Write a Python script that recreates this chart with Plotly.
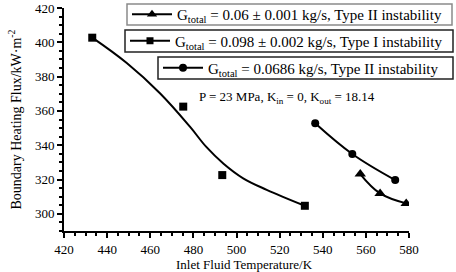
import plotly.graph_objects as go

# Measured points
sq_x = [433.1, 475.3, 493.4, 531.7]
sq_y = [402.7, 362.5, 322.6, 304.7]
ci_x = [536.5, 553.7, 573.6]
ci_y = [352.8, 334.9, 319.7]
tr_x = [557.4, 566.6, 578.7]
tr_y = [323.2, 311.9, 306.1]

# Fitted curves
sq_fit_x = [433.1, 449.1, 464.5, 478.4, 486.0, 494.0, 503.1, 514.0, 531.7]
sq_fit_y = [402.7, 387.9, 370.3, 350.8, 339.0, 329.2, 320.7, 314.0, 304.7]
ci_fit_x = [536.5, 553.7, 573.6]
ci_fit_y = [352.8, 334.9, 319.7]
tr_fit_x = [557.4, 566.6, 578.7]
tr_fit_y = [323.2, 311.9, 306.1]

legend_labels = [
    "G<sub>total</sub> = 0.06 ± 0.001 kg/s, Type II instability",
    "G<sub>total</sub> = 0.098 ± 0.002 kg/s, Type I instability",
    "G<sub>total</sub> = 0.0686 kg/s, Type II instability",
]
x_title = "Inlet Fluid Temperature/K"
y_title = "Boundary Heating Flux/kW·m<sup>-2</sup>"
note = "P = 23 MPa, K<sub>in</sub> = 0, K<sub>out</sub> = 18.14"

FONT = "Liberation Serif"
BLACK = "#000000"
L, R, T, B = 64, 47, 8, 41
PW, PH = 456 - L - R, 272 - T - B

def px(x):
    return (x - L) / PW

def py(y):
    return 1 - (y - T) / PH

# legend box frames (pixels): left, top, right, bottom, border colour
boxes = [(127, 4, 452, 25, "#8a8a8a"), (125, 30, 453, 52, "#222222"), (158, 57, 453, 79, "#222222")]

fig = go.Figure()

# fitted lines
for fx, fy in [(sq_fit_x, sq_fit_y), (ci_fit_x, ci_fit_y), (tr_fit_x, tr_fit_y)]:
    fig.add_trace(go.Scatter(x=fx, y=fy, mode="lines", line=dict(color=BLACK, width=2, shape="spline", smoothing=1.1),
                             showlegend=False, hoverinfo="skip"))

# markers
fig.add_trace(go.Scatter(x=sq_x, y=sq_y, mode="markers", marker=dict(symbol="square", size=8, color=BLACK), showlegend=False))
fig.add_trace(go.Scatter(x=ci_x, y=ci_y, mode="markers", marker=dict(symbol="circle", size=8, color=BLACK), showlegend=False))
fig.add_trace(go.Scatter(x=tr_x, y=tr_y, mode="markers", marker=dict(symbol="triangle-up", size=10, color=BLACK), showlegend=False))

# legend entries (each in its own box)
for lbl, sym, lg, sz in [(legend_labels[0], "triangle-up", "legend", 9),
                         (legend_labels[1], "square", "legend2", 7),
                         (legend_labels[2], "circle", "legend3", 8)]:
    fig.add_trace(go.Scatter(x=[None], y=[None], mode="lines+markers", name=lbl, legend=lg,
                             line=dict(color=BLACK, width=2), marker=dict(symbol=sym, size=sz, color=BLACK)))

leg_common = dict(font=dict(family=FONT, size=15, color=BLACK), bgcolor="rgba(0,0,0,0)",
                  borderwidth=0, xanchor="left", yanchor="middle", itemwidth=40, tracegroupgap=0)

shapes = [dict(type="rect", xref="paper", yref="paper", x0=px(b[0]), x1=px(b[2]), y0=py(b[3]), y1=py(b[1]),
               line=dict(color=b[4], width=1.5), fillcolor="white", layer="above") for b in boxes]

fig.update_layout(
    width=456, height=272,
    margin=dict(l=L, r=R, t=T, b=B, autoexpand=False),
    paper_bgcolor="white", plot_bgcolor="white",
    font=dict(family=FONT, size=13, color=BLACK),
    xaxis=dict(range=[420, 580], tickmode="linear", tick0=420, dtick=20,
               showgrid=False, zeroline=False, showline=True, linecolor=BLACK, linewidth=2,
               ticks="outside", ticklen=5, tickwidth=1.5, tickcolor=BLACK,
               minor=dict(ticks="outside", ticklen=3, tickwidth=1.5, tickcolor=BLACK, showgrid=False),
               tickfont=dict(family=FONT, size=13)),
    yaxis=dict(range=[290, 420], tickmode="linear", tick0=300, dtick=20,
               showgrid=False, zeroline=False, showline=True, linecolor=BLACK, linewidth=2,
               ticks="outside", ticklen=5, tickwidth=1.5, tickcolor=BLACK,
               minor=dict(ticks="outside", ticklen=3, tickwidth=1.5, tickcolor=BLACK, showgrid=False),
               title=dict(text=y_title, font=dict(family=FONT, size=14), standoff=10),
               tickfont=dict(family=FONT, size=13)),
    legend=dict(**leg_common, x=px(boxes[0][0]), y=py((boxes[0][1] + boxes[0][3]) / 2)),
    legend2=dict(**leg_common, x=px(boxes[1][0]), y=py((boxes[1][1] + boxes[1][3]) / 2)),
    legend3=dict(**leg_common, x=px(boxes[2][0]), y=py((boxes[2][1] + boxes[2][3]) / 2)),
    shapes=shapes,
    annotations=[
        dict(text=note, xref="paper", yref="paper", x=px(197), y=py(97), xanchor="left", yanchor="middle",
             showarrow=False, font=dict(family=FONT, size=13, color=BLACK)),
        dict(text=x_title, xref="paper", yref="paper", x=px(244), y=py(264), xanchor="center", yanchor="middle",
             showarrow=False, font=dict(family=FONT, size=13, color=BLACK)),
    ],
)

fig.write_html("out.html", post_script="document.body.style.margin='0';",
               config={"displayModeBar": False})
